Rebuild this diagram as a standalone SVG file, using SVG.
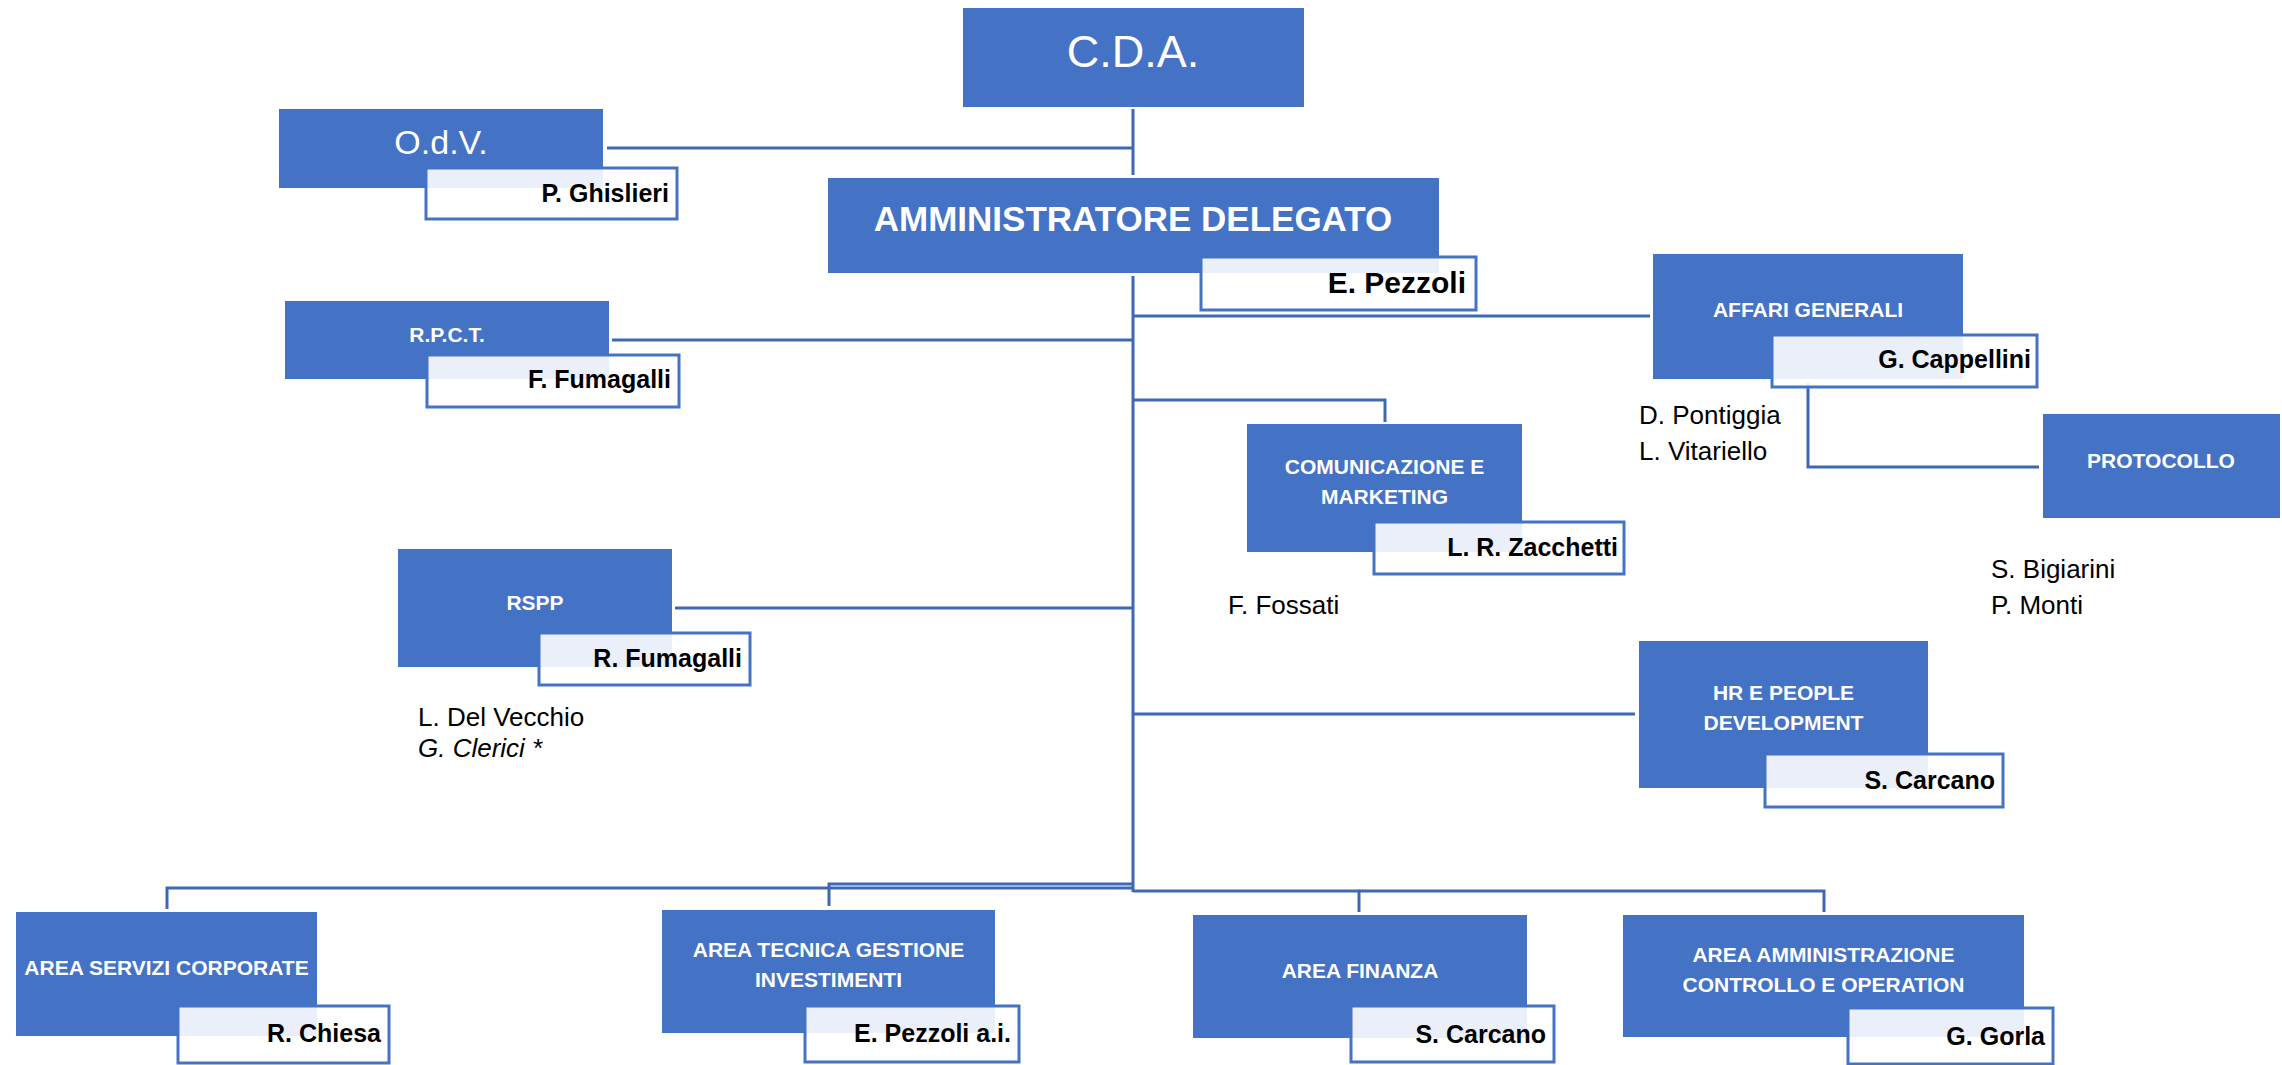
<svg xmlns="http://www.w3.org/2000/svg" width="2282" height="1065" viewBox="0 0 2282 1065">
<style>
.box{fill:#4472C4;}
.nm{fill:#FFFFFF;fill-opacity:0.89;stroke:#4472C4;stroke-width:3;}
.t{font-family:"Liberation Sans",Arial,sans-serif;fill:#FFFFFF;font-weight:bold;font-size:21px;text-anchor:middle;}
.tl{font-family:"Liberation Sans",Arial,sans-serif;fill:#FFFFFF;text-anchor:middle;}
.n{font-family:"Liberation Sans",Arial,sans-serif;fill:#000000;font-weight:bold;font-size:25px;text-anchor:end;}
.s{font-family:"Liberation Sans",Arial,sans-serif;fill:#000000;font-size:26px;}
.c{fill:none;stroke:#3F68B4;stroke-width:3;}
</style>
<rect width="2282" height="1065" fill="#FFFFFF"/>
<g id="connectors">
<path class="c" d="M1133,109 V175"/>
<path class="c" d="M607,148 H1133"/>
<path class="c" d="M1133,276 V892"/>
<path class="c" d="M1133,316 H1650"/>
<path class="c" d="M612,340 H1133"/>
<path class="c" d="M1133,400 H1385 V422"/>
<path class="c" d="M675,608 H1133"/>
<path class="c" d="M1133,714 H1635"/>
<path class="c" d="M1808,383 V467 H2039"/>
<path class="c" d="M1133,888 H167 V909"/>
<path class="c" d="M1133,884 H829 V906"/>
<path class="c" d="M1133,891 H1359 V912"/>
<path class="c" d="M1359,891 H1824 V912"/>
</g>
<g id="cda">
<rect class="box" x="963" y="8" width="341" height="99"/>
<text class="tl" x="1133" y="67" font-size="45">C.D.A.</text>
</g>
<g id="odv">
<rect class="box" x="279" y="109" width="324" height="79"/>
<text class="tl" x="441" y="154" font-size="34">O.d.V.</text>
<rect class="nm" x="426" y="168" width="251" height="51"/>
<text class="n" x="669" y="202">P. Ghislieri</text>
</g>
<g id="ad">
<rect class="box" x="828" y="178" width="611" height="95"/>
<text class="t" x="1133" y="231" style="font-size:35px">AMMINISTRATORE DELEGATO</text>
<rect class="nm" x="1201" y="257" width="275" height="53"/>
<text class="n" x="1466" y="293" style="font-size:30px">E. Pezzoli</text>
</g>
<g id="rpct">
<rect class="box" x="285" y="301" width="324" height="78"/>
<text class="t" x="447" y="342">R.P.C.T.</text>
<rect class="nm" x="427" y="355" width="252" height="52"/>
<text class="n" x="671" y="388">F. Fumagalli</text>
</g>
<g id="affari">
<rect class="box" x="1653" y="254" width="310" height="125"/>
<text class="t" x="1808" y="317">AFFARI GENERALI</text>
<rect class="nm" x="1772" y="335" width="265" height="52"/>
<text class="n" x="2031" y="368">G. Cappellini</text>
<text class="s" x="1639" y="424">D. Pontiggia</text>
<text class="s" x="1639" y="460">L. Vitariello</text>
</g>
<g id="protocollo">
<rect class="box" x="2043" y="414" width="237" height="104"/>
<text class="t" x="2161" y="468">PROTOCOLLO</text>
<text class="s" x="1991" y="578">S. Bigiarini</text>
<text class="s" x="1991" y="614">P. Monti</text>
</g>
<g id="comunicazione">
<rect class="box" x="1247" y="424" width="275" height="128"/>
<text class="t" x="1384.5" y="474">COMUNICAZIONE E</text>
<text class="t" x="1384.5" y="504">MARKETING</text>
<rect class="nm" x="1374" y="522" width="250" height="52"/>
<text class="n" x="1618" y="556">L. R. Zacchetti</text>
<text class="s" x="1228" y="614">F. Fossati</text>
</g>
<g id="rspp">
<rect class="box" x="398" y="549" width="274" height="118"/>
<text class="t" x="535" y="610">RSPP</text>
<rect class="nm" x="539" y="633" width="211" height="52"/>
<text class="n" x="742" y="667">R. Fumagalli</text>
<text class="s" x="418" y="726">L. Del Vecchio</text>
<text class="s" x="418" y="757" font-style="italic">G. Clerici *</text>
</g>
<g id="hr">
<rect class="box" x="1639" y="641" width="289" height="147"/>
<text class="t" x="1783.5" y="700">HR E PEOPLE</text>
<text class="t" x="1783.5" y="730">DEVELOPMENT</text>
<rect class="nm" x="1765" y="754" width="238" height="53"/>
<text class="n" x="1995" y="789">S. Carcano</text>
</g>
<g id="servizi-corporate">
<rect class="box" x="16" y="912" width="301" height="124"/>
<text class="t" x="166.5" y="975">AREA SERVIZI CORPORATE</text>
<rect class="nm" x="178" y="1006" width="211" height="57"/>
<text class="n" x="381" y="1042">R. Chiesa</text>
</g>
<g id="tecnica">
<rect class="box" x="662" y="910" width="333" height="123"/>
<text class="t" x="828.5" y="957">AREA TECNICA GESTIONE</text>
<text class="t" x="828.5" y="987">INVESTIMENTI</text>
<rect class="nm" x="805" y="1006" width="214" height="56"/>
<text class="n" x="1011" y="1042">E. Pezzoli a.i.</text>
</g>
<g id="finanza">
<rect class="box" x="1193" y="915" width="334" height="123"/>
<text class="t" x="1360" y="978">AREA FINANZA</text>
<rect class="nm" x="1351" y="1006" width="203" height="56"/>
<text class="n" x="1546" y="1043">S. Carcano</text>
</g>
<g id="amministrazione">
<rect class="box" x="1623" y="915" width="401" height="122"/>
<text class="t" x="1823.5" y="962">AREA AMMINISTRAZIONE</text>
<text class="t" x="1823.5" y="992">CONTROLLO E OPERATION</text>
<rect class="nm" x="1848" y="1008" width="205" height="56"/>
<text class="n" x="2045" y="1045">G. Gorla</text>
</g>
</svg>
